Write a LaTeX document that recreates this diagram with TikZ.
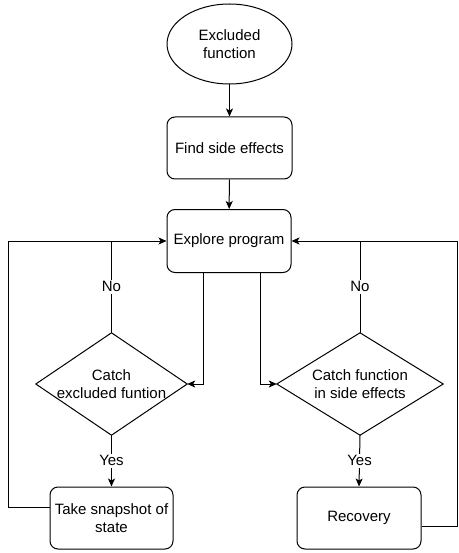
\documentclass[tikz,border=0pt]{standalone}
\usepackage{fontspec}
\setmainfont{Liberation Sans}
\usetikzlibrary{shapes.geometric,arrows.meta}
\begin{document}
\begin{tikzpicture}[x=1pt,y=1pt,
  every node/.style={font=\fontsize{15}{18}\selectfont},
  box/.style={draw, line width=1pt, rounded corners=8pt, align=center, inner sep=0pt},
  term/.style={draw, ellipse, line width=1pt, align=center, inner sep=0pt},
  decision/.style={align=center, inner sep=0pt},
  dline/.style={draw, line width=1pt, line join=miter},
  conn/.style={line width=1pt, -{Stealth[length=8pt,width=7pt,inset=2pt]}},
  plain/.style={line width=1pt},
  lbl/.style={fill=white, inner sep=1.5pt}]
\useasboundingbox (0,0) rectangle (458,-553);
\node[term, minimum width=125, minimum height=80] (ex) at (229.5,-44) {Excluded\\function};
\node[box, minimum width=125, minimum height=62] (find) at (229.5,-148) {Find side effects};
\node[box, minimum width=124, minimum height=63] (explore) at (229,-241) {Explore program};
\node[decision, minimum width=151, minimum height=102] (d1) at (111.5,-384) {Catch\\excluded funtion};
\node[decision, minimum width=166, minimum height=102] (d2) at (360,-384) {Catch function\\in side effects};
\draw[dline] (d1.north) -- (d1.east) -- (d1.south) -- (d1.west) -- cycle;
\draw[dline] (d2.north) -- (d2.east) -- (d2.south) -- (d2.west) -- cycle;
\node[box, minimum width=123, minimum height=62] (snap) at (111.5,-518) {Take snapshot of\\state};
\node[box, minimum width=124, minimum height=62] (rec) at (359,-518) {Recovery};
\coordinate (lx) at (8,0);
\coordinate (rx) at (457.5,0);

\draw[conn] (ex) -- (find);
\draw[conn] (find) -- (explore);
\draw[conn] ([xshift=-26]explore.south) |- (d1.east);
\draw[conn] ([xshift=31]explore.south) |- (d2.west);
\draw[plain] (d1.north) -- node[lbl] {No} (d1.north |- explore.west);
\draw[plain] (d2.north) -- node[lbl] {No} (d2.north |- explore.east);
\draw[conn] (d1.south) -- node[lbl] {Yes} (snap.north);
\draw[conn] (d2.south) -- node[lbl] {Yes} (rec.north);
\draw[conn] ([yshift=11]snap.west) -| (lx |- explore.west) -- (explore.west);
\draw[conn] ([yshift=-8]rec.east) -| (rx |- explore.east) -- (explore.east);
\end{tikzpicture}
\end{document}
